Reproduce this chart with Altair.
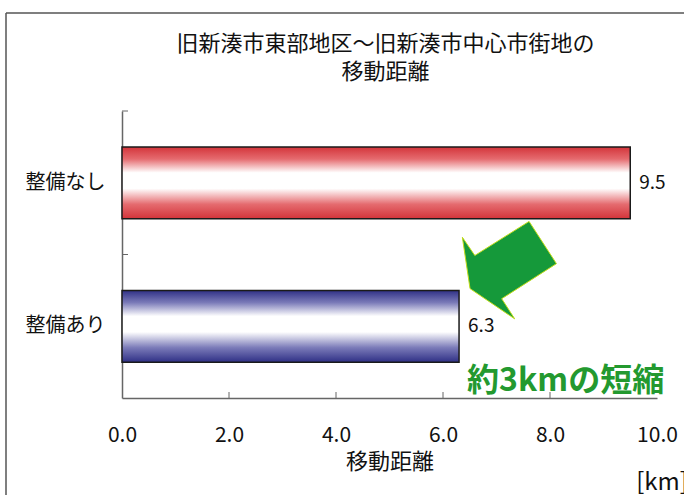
import altair as alt
import pandas as pd

# Travel distance before/after the road improvement
categories = ["整備なし", "整備あり"]
distances = [9.5, 6.3]
x_ticks = [0, 2, 4, 6, 8, 10]

title_lines = ["旧新湊市東部地区～旧新湊市中心市街地の", "移動距離"]
axis_title = "移動距離"
unit_label = "[km]"
note_label = "約3kmの短縮"

FONT = "Noto Sans CJK JP"
W, H = 535, 287

df = pd.DataFrame({"item": categories, "km": distances})


def stripe(edge, mid):
    # vertical gradient: coloured edges, white band through the middle
    return alt.Gradient(
        gradient="linear",
        x1=0, x2=0, y1=0, y2=1,
        stops=[
            alt.GradientStop(color=edge, offset=0),
            alt.GradientStop(color=mid, offset=0.17),
            alt.GradientStop(color="#ffffff", offset=0.36),
            alt.GradientStop(color="#ffffff", offset=0.58),
            alt.GradientStop(color=mid, offset=0.8),
            alt.GradientStop(color=edge, offset=1),
        ],
    )


x_enc = alt.X(
    "km:Q",
    scale=alt.Scale(domain=[0, 10], nice=False),
    axis=alt.Axis(
        values=x_ticks, format=".1f", ticks=False, grid=False, labelFlush=False,
        labelFont=FONT, labelFontSize=21, labelColor="#111", labelPadding=26,
        domainColor="#666", domainWidth=1.5,
        title=axis_title, titleFont=FONT, titleFontSize=22,
        titleFontWeight="normal", titleColor="#111", titlePadding=6,
    ),
)
y_enc = alt.Y(
    "item:N",
    sort=categories,
    scale=alt.Scale(domain=categories, paddingInner=0.5, paddingOuter=0.25),
    axis=alt.Axis(
        title=None, ticks=False, grid=False,
        labelFont=FONT, labelFontSize=20, labelColor="#111", labelPadding=17,
        domainColor="#666", domainWidth=1.5,
    ),
)

base = alt.Chart(df)

bar_red = base.transform_filter(alt.datum.item == categories[0]).mark_bar(
    color=stripe("#d3343a", "#e56b6f"), stroke="#1a1a1a", strokeWidth=1.5
).encode(x=x_enc, y=y_enc)

bar_blue = base.transform_filter(alt.datum.item == categories[1]).mark_bar(
    color=stripe("#2f3086", "#7a7ab8"), stroke="#1a1a1a", strokeWidth=1.5
).encode(x=x_enc, y=y_enc)

values = base.mark_text(
    align="left", baseline="middle", dx=9, font=FONT, fontSize=19, color="#111"
).encode(x="km:Q", y=alt.Y("item:N", sort=categories), text=alt.Text("km:Q", format=".1f"))

# inward tick marks on the value axis
xtick_df = pd.DataFrame({"km": x_ticks[1:-1]})
x_inner_ticks = alt.Chart(xtick_df).mark_rule(color="#666", strokeWidth=1).encode(
    x="km:Q", y=alt.value(H), y2=alt.value(H - 6)
)

one = alt.Data(values=[{}])

y_inner_ticks = [
    alt.Chart(one).mark_rule(color="#666", strokeWidth=1).encode(
        x=alt.value(0), x2=alt.value(6), y=alt.value(yp)
    )
    for yp in (0, H / 2)
]

# block arrow pointing down-left at the shorter bar
arrow_path = (
    "M 0.40 -1.02 L -0.73 -0.31 L -0.99 -0.69 L -0.83 0.38 "
    "L 0.10 1.01 L -0.17 0.59 L 0.97 -0.14 Z"
)
arrow = alt.Chart(one).mark_point(
    shape=arrow_path, filled=True, fill="#15993a", stroke="#c2dc1a",
    strokeWidth=1, opacity=1, size=96 * 96,
).encode(x=alt.datum(7.25), y=alt.datum(categories[1]), yOffset=alt.value(-20))

note = alt.Chart(one).mark_text(
    align="left", baseline="middle", dy=55, font=FONT, fontSize=32,
    fontWeight="bold", color="#23992f",
).encode(x=alt.datum(6.45), y=alt.datum(categories[1]), text=alt.value(note_label))

unit = alt.Chart(one).mark_text(
    align="center", baseline="top", dx=5, font=FONT, fontSize=24, color="#111"
).encode(x=alt.datum(10), y=alt.value(H + 73), text=alt.value(unit_label))

# two-line chart heading centred over the plot
heading = alt.Chart(one).mark_text(
    align="center", baseline="top", font=FONT, fontSize=22, lineHeight=28,
    color="#111",
).encode(x=alt.value(W / 2 - 4), y=alt.value(-77), text=alt.value(title_lines))

# outer chart border (top and left edges)
frame_left = alt.Chart(one).mark_rule(color="#555", strokeWidth=1.5).encode(
    x=alt.value(-116), y=alt.value(-98), y2=alt.value(H + 110)
)
frame_top = alt.Chart(one).mark_rule(color="#555", strokeWidth=1.5).encode(
    x=alt.value(-116), x2=alt.value(W + 40), y=alt.value(-98)
)

chart = alt.layer(
    frame_left, frame_top, heading, bar_red, bar_blue, values,
    x_inner_ticks, *y_inner_ticks, arrow, note, unit,
).properties(
    width=W,
    height=H,
    autosize=alt.AutoSizeParams(type="none"),
    padding={"left": 122, "top": 111, "right": 27, "bottom": 97},
    background="white",
).configure_view(stroke=None)

chart.save("out.html", embed_options={"renderer": "svg", "actions": False})
